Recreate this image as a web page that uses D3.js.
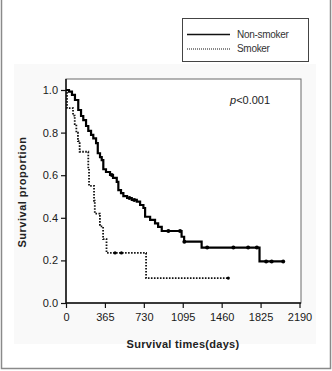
<!DOCTYPE html>
<html>
<head>
<meta charset="utf-8">
<script src="https://cdn.jsdelivr.net/npm/d3@7"></script>
<style>
  body { margin: 0; background: #fff; }
  svg { display: block; font-family: "Liberation Sans", Arial, sans-serif; }
</style>
</head>
<body>
<svg width="332" height="371"></svg>
<script>
const WIDTH = 332
const HEIGHT = 371

// Kaplan-Meier steps
const nonSmokerTimes = [0, 28, 56, 84, 115, 141, 162, 188, 209, 235, 256, 282, 298, 319, 335, 350, 375, 413, 441, 476, 491, 516, 538, 573, 617, 664, 695, 726, 742, 789, 835, 864, 898, 1084, 1108, 1272, 1815, 2037]
const nonSmokerSurv = [1.0, 0.992, 0.977, 0.953, 0.906, 0.878, 0.859, 0.831, 0.808, 0.789, 0.773, 0.751, 0.703, 0.685, 0.671, 0.628, 0.615, 0.601, 0.587, 0.569, 0.530, 0.516, 0.502, 0.493, 0.484, 0.476, 0.460, 0.446, 0.405, 0.390, 0.374, 0.357, 0.338, 0.311, 0.288, 0.260, 0.195, 0.195]
const nonSmokerCensorT = [430, 595, 640, 960, 1070, 1110, 1324, 1570, 1708, 1790, 1877, 1929, 2037]
const nonSmokerCensorS = [0.601, 0.493, 0.484, 0.338, 0.338, 0.288, 0.260, 0.260, 0.260, 0.260, 0.195, 0.195, 0.195]

const smokerTimes = [0, 9, 66, 82, 97, 112, 128, 209, 216, 263, 270, 318, 348, 380, 751, 1522]
const smokerSurv = [1.0, 0.915, 0.88, 0.84, 0.80, 0.76, 0.71, 0.63, 0.55, 0.48, 0.42, 0.36, 0.30, 0.235, 0.117, 0.117]
const smokerCensorT = [460, 520, 1522]
const smokerCensorS = [0.235, 0.235, 0.117]

const xTicks = [0, 365, 730, 1095, 1460, 1825, 2190]
const yTicks = [0.0, 0.2, 0.4, 0.6, 0.8, 1.0]
const legendLabels = ['Non-smoker', 'Smoker']

const svg = d3.select('svg')

// outer frame and light backdrop
svg.append('rect')
    .attr('x', 14).attr('y', 64).attr('width', 302).attr('height', 280)
    .attr('fill', '#f9f9f9')
svg.append('path')
    .attr('d', 'M1.5,0 V368.5 H330.5 V0')
    .attr('fill', 'none').attr('stroke', '#8a8a8a').attr('stroke-width', 1.5)

const x = d3.scaleLinear().domain([0, 2190]).range([66, 299.5])
const y = d3.scaleLinear().domain([0, 1]).range([303, 90])

// plot box
svg.append('rect')
    .attr('x', 66).attr('y', 79).attr('width', 235).attr('height', 224)
    .attr('fill', '#fff').attr('stroke', '#6a6a6a').attr('stroke-width', 1)

const xAxis = svg.append('g')
    .attr('transform', 'translate(0,303)')
    .call(d3.axisBottom(x).tickValues(xTicks).tickSize(5).tickPadding(5).tickFormat(d3.format('d')))
const yAxis = svg.append('g')
    .attr('transform', 'translate(66,0)')
    .call(d3.axisLeft(y).tickValues(yTicks).tickSize(5).tickPadding(3).tickFormat(d3.format('.1f')))

;[xAxis, yAxis].forEach(g => {
    g.select('.domain').attr('stroke', '#111').attr('stroke-width', 1.5)
    g.selectAll('.tick line').attr('stroke', '#111').attr('stroke-width', 1.2)
    g.selectAll('.tick text')
        .attr('fill', '#1a1a1a')
        .style('font-size', '11px')
        .style('font-family', '"Liberation Sans", Arial, sans-serif')
})
xAxis.select('.domain').attr('d', 'M66,0H301')
yAxis.select('.domain').attr('d', 'M0,79V303')

// curves
const line = d3.line()
    .x(d => x(d[0]))
    .y(d => y(d[1]))
    .curve(d3.curveStepAfter)

const nonSmoker = d3.zip(nonSmokerTimes, nonSmokerSurv)
const smoker = d3.zip(smokerTimes, smokerSurv)

svg.append('path')
    .datum(smoker)
    .attr('d', line)
    .attr('fill', 'none')
    .attr('stroke', '#111')
    .attr('stroke-width', 1.8)
    .attr('stroke-dasharray', '1.6,1.4')

svg.append('path')
    .datum(nonSmoker)
    .attr('d', line)
    .attr('fill', 'none')
    .attr('stroke', '#000')
    .attr('stroke-width', 2.2)

// censor marks
svg.append('g').selectAll('circle')
    .data(d3.zip(nonSmokerCensorT, nonSmokerCensorS))
    .enter().append('circle')
    .attr('cx', d => x(d[0]))
    .attr('cy', d => y(d[1]))
    .attr('r', 2)
    .attr('fill', '#000')
svg.append('g').selectAll('circle')
    .data(d3.zip(smokerCensorT, smokerCensorS))
    .enter().append('circle')
    .attr('cx', d => x(d[0]))
    .attr('cy', d => y(d[1]))
    .attr('r', 1.6)
    .attr('fill', '#000')

// p value
const pText = svg.append('text')
    .attr('x', 230).attr('y', 104)
    .attr('fill', '#222')
    .style('font-size', '11px')
pText.append('tspan').style('font-style', 'italic').text('p')
pText.append('tspan').text('<0.001')

// axis titles
svg.append('text')
    .attr('x', 183).attr('y', 348)
    .attr('text-anchor', 'middle')
    .attr('fill', '#222')
    .style('font-size', '11px')
    .style('font-weight', 'bold')
    .style('letter-spacing', '0.3px')
    .text('Survival times(days)')

svg.append('text')
    .attr('transform', 'translate(26,192) rotate(-90)')
    .attr('text-anchor', 'middle')
    .attr('fill', '#222')
    .style('font-size', '11px')
    .style('font-weight', 'bold')
    .style('letter-spacing', '0.5px')
    .text('Survival proportion')

// legend
svg.append('rect')
    .attr('x', 182.5).attr('y', 18.5).attr('width', 126).attr('height', 43)
    .attr('fill', '#fff').attr('stroke', '#444').attr('stroke-width', 1)

legendLabels.forEach((label, i) => {
    const ly = 34.5 + i * 14.5
    svg.append('line')
        .attr('x1', 187).attr('x2', 230)
        .attr('y1', ly).attr('y2', ly)
        .attr('stroke', '#111')
        .attr('stroke-width', i === 0 ? 1.3 : 1)
        .attr('stroke-dasharray', i === 0 ? null : '1,1')
    svg.append('text')
        .attr('x', 237).attr('y', ly + 3)
        .attr('fill', '#333')
        .style('font-size', '10px')
        .style('letter-spacing', '-0.3px')
        .text(label)
})
</script>
</body>
</html>
